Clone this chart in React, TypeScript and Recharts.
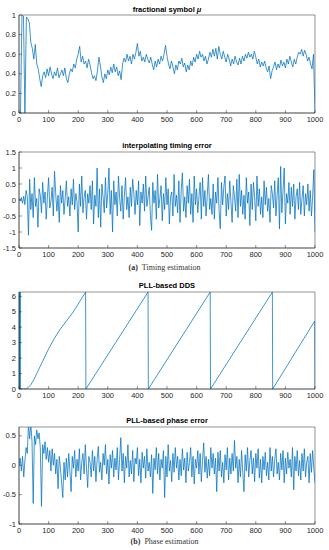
import React from "react";
import { LineChart, Line, XAxis, YAxis, ReferenceArea } from "recharts";

// fractional interval, one value every 5 symbols (0..1000)
const muValues = [
  0, 0, 1, 0.99, 0, 0.98, 0.96, 0.92, 0.72, 0.66,
  0.55, 0.7, 0.5, 0.45, 0.35, 0.27, 0.38, 0.42, 0.36, 0.45,
  0.38, 0.47, 0.4, 0.35, 0.42, 0.38, 0.46, 0.36, 0.4, 0.44,
  0.38, 0.46, 0.35, 0.31, 0.4, 0.45, 0.42, 0.5, 0.46, 0.55,
  0.6, 0.68, 0.52, 0.58, 0.5, 0.53, 0.46, 0.55, 0.49, 0.41,
  0.35, 0.38, 0.33, 0.43, 0.57, 0.48, 0.37, 0.31, 0.4, 0.35,
  0.44, 0.39, 0.47, 0.41, 0.5, 0.42, 0.47, 0.38, 0.43, 0.34,
  0.5, 0.56, 0.52, 0.6, 0.53, 0.58, 0.5, 0.6, 0.55, 0.62,
  0.71, 0.58, 0.63, 0.53, 0.57, 0.52, 0.6, 0.55, 0.51, 0.57,
  0.5, 0.44, 0.53, 0.47, 0.55, 0.5, 0.58, 0.53, 0.6, 0.69,
  0.58, 0.5, 0.45, 0.53, 0.47, 0.4, 0.49, 0.44, 0.53, 0.5,
  0.56, 0.47, 0.51, 0.42, 0.49, 0.44, 0.53, 0.48, 0.57, 0.52,
  0.6, 0.55, 0.63, 0.57, 0.6, 0.53, 0.58, 0.5, 0.55, 0.62,
  0.57, 0.65, 0.58, 0.66, 0.55, 0.68, 0.6, 0.55, 0.63, 0.57,
  0.52, 0.6, 0.55, 0.48, 0.55, 0.5, 0.58, 0.52, 0.49, 0.56,
  0.5, 0.58, 0.53, 0.6, 0.56, 0.62, 0.57, 0.6, 0.55, 0.63,
  0.57, 0.5, 0.55, 0.47, 0.52, 0.48, 0.53, 0.46, 0.42, 0.48,
  0.35, 0.43, 0.47, 0.52, 0.44, 0.5, 0.46, 0.54, 0.48, 0.52,
  0.46, 0.55, 0.5, 0.58, 0.52, 0.47, 0.55, 0.5, 0.57, 0.62,
  0.6, 0.65, 0.58, 0.64, 0.6, 0.53, 0.57, 0.5, 0.45, 0.6,
  0,
];

// timing error, one value every 4 symbols (0..1000)
const timingErr = [
  0.05, -0.03, 0.08, -0.1, 0.12, -0.15, 0.3, 0.1, -1.1, 0.65,
  -0.3, 0.2, -0.55, 0.7, -0.2, 0.05, -0.85, 0.35, 0.15, -0.4,
  0.55, -0.1, 0.25, -0.6, 0.1, 0.7, -0.25, -0.05, 0.4, -0.5,
  0.9, 0.2, -0.35, 0.15, -0.7, 0.45, -0.1, 0.3, -0.45, 0.05,
  0.6, -0.2, 0.1, -0.5, 0.35, -0.15, 0.65, -0.3, 0.2, -0.05,
  -1.0, 0.5, -0.2, 0.75, -0.4, 0.1, 0.3, -0.6, 0.2, -0.1,
  0.45, -0.3, 0.6, -0.75, 0.15, -0.2, 1.0, -0.55, 0.35, -0.85,
  0.5, 0.1, -0.4, 0.7, -0.25, 0.2, 1.0, -0.45, 0.3, -1.0,
  0.6, -0.15, 0.25, -0.5, 0.75, 0.05, -0.35, 0.45, -0.6, 0.15,
  0.7, -0.3, 0.1, -0.55, 0.4, -0.2, 0.65, 0.2, -0.45, 0.3,
  -0.15, 0.6, -0.8, 0.25, -0.1, 0.5, -0.35, 0.75, -0.2, 0.1,
  0.4, -0.5, -0.95, 0.55, -0.1, 0.3, -0.6, 0.8, -0.25, 0.05,
  0.45, -0.65, 0.2, -0.3, 0.7, -0.15, 0.35, -0.75, 0.1, 0.25,
  -0.5, 0.8, -0.2, 0.15, -0.4, 0.6, -0.7, 0.3, 0.85, -0.35,
  0.1, -0.55, 0.45, -0.1, 0.65, -0.45, 0.2, -0.7, 0.75, -0.15,
  0.35, -0.4, 0.1, 0.55, -0.6, 0.7, -0.2, 0.3, -0.5, 0.15,
  0.8, -0.3, 0.05, -0.45, 0.5, -0.6, 0.25, -0.1, 0.7, -0.35,
  -0.9, 0.55, -0.15, 0.4, 0.75, -0.5, 0.2, -0.3, 0.6, -0.05,
  -0.7, 0.45, 0.1, -0.35, 0.65, -0.55, 0.8, -0.2, 0.3, -0.45,
  0.15, -0.6, 0.7, -0.1, 0.25, -0.8, 0.5, -0.3, 0.55, 0.1,
  -0.65, 0.75, -0.2, 0.35, -0.45, 0.1, -0.55, 0.6, -0.15, 0.4,
  -0.35, 0.05, -0.7, 0.45, 0.2, -0.25, 0.6, -0.5, 0.15, 0.7,
  -0.9, 1.05, -0.4, 0.3, 1.0, -0.75, 0.2, -0.1, 0.55, -0.45,
  0.4, -0.2, 0.5, -0.6, 0.1, 0.35, -0.3, 0.55, -0.45, 0.05,
  0.45, -0.5, 0.2, -0.15, 0.5, -0.35, 0.3, -0.5, 0.1, 0.95,
  -1.0,
];

// PLL phase error, one value every 4 symbols (0..1000)
const phaseErr = [
  0, 0.12, -0.1, 0.15, -0.2, 0.08, 0.3, 0.2, 0.7, 0.45,
  0.7, 0.4, -0.65, 0.5, 0.35, 0.6, 0.45, 0.55, 0.3, -0.7,
  0.35, 0.2, 0.4, 0.1, 0.3, 0.05, 0.25, -0.1, 0.28, 0,
  0.2, -0.15, 0.1, -0.4, 0.15, -0.05, -0.3, -0.55, 0.05, -0.25,
  0.12, -0.2, 0.2, -0.1, -0.45, 0.15, -0.05, 0.25, -0.2, 0.1,
  -0.1, 0.28, -0.25, 0.05, 0.2, -0.15, 0.35, -0.05, -0.38, 0.15,
  0.05, -0.2, 0.25, -0.1, 0.15, -0.28, 0.1, 0.32, -0.12, 0.05,
  -0.25, 0.2, 0, 0.35, -0.15, 0.1, -0.32, 0.18, -0.05, 0.25,
  -0.2, 0.12, -0.08, 0.3, -0.25, 0.1, 0.47, -0.1, 0.2, -0.3,
  0.15, -0.05, 0.35, -0.2, 0.08, -0.15, 0.25, -0.28, 0.12, 0.02,
  0.3, -0.18, 0.1, -0.3, 0.22, -0.05, 0.15, -0.22, 0.28, -0.1,
  0.05, -0.2, 0.18, -0.48, 0.12, -0.08, 0.3, -0.15, 0.2, -0.25,
  0.1, -0.05, 0.25, -0.55, 0.15, -0.2, 0.35, -0.1, 0.08, -0.28,
  0.2, -0.12, 0.3, -0.05, 0.15, -0.25, 0.1, -0.18, 0.28, -0.08,
  0.12, -0.3, 0.22, -0.1, 0.05, 0.3, -0.2, 0.15, -0.32, 0.1,
  -0.05, 0.25, -0.15, 0.2, -0.28, 0.08, 0.38, -0.12, 0.15, -0.22,
  0.1, -0.18, 0.3, -0.05, 0.2, -0.15, 0.12, -0.45, 0.22, -0.1,
  0.25, -0.2, 0.05, -0.3, 0.18, -0.08, 0.3, -0.25, 0.12, -0.15,
  0.2, -0.1, 0.42, -0.05, 0.15, -0.3, 0.1, -0.2, 0.25, -0.12,
  -0.45, 0.18, -0.1, 0.3, -0.2, 0.08, 0.25, -0.15, 0.12, -0.28,
  0.2, -0.05, 0.28, -0.22, 0.1, -0.3, 0.15, -0.08, 0.22, -0.18,
  0.05, -0.25, 0.3, -0.1, 0.15, -0.2, 0.1, 0.28, -0.15, 0.05,
  -0.25, 0.2, -0.08, 0.25, -0.3, 0.12, -0.15, 0.22, -0.05, 0.1,
  -0.2, 0.3, -0.42, 0.15, -0.1, 0.25, -0.18, 0.08, -0.25, 0.2,
  -0.1, 0.28, -0.2, 0.05, 0.15, -0.3, 0.2, -0.12, 0.25, -0.05,
  -0.3,
];

// DDS phase, wraps at 2*pi
const ddsX = [0, 1, 2, 4, 5, 25, 30, 40, 50, 60, 80, 100, 120, 140, 160, 180, 200, 225, 226, 436, 437, 646, 647, 856, 857, 999, 1000];
const ddsY = [0, 6.28, 0, 6.28, 0, 0, 0.08, 0.28, 0.6, 1.0, 1.8, 2.6, 3.3, 3.9, 4.4, 4.9, 5.5, 6.28, 0, 6.28, 0, 6.28, 0, 6.28, 0, 4.4, 0];

const xTicks = [0, 100, 200, 300, 400, 500, 600, 700, 800, 900, 1000];

const BLUE = "#0072BD";
const AXIS = "#262626";
const SANS = "'Liberation Sans', Arial, sans-serif";
const SERIF = "'Liberation Serif', 'Times New Roman', serif";
const PAD = 6;

const toSeries = (vals: number[], step: number) => vals.map((y, i) => ({ x: i * step, y }));
const ddsData = ddsX.map((x, i) => ({ x, y: ddsY[i] }));

type PanelProps = {
  data: { x: number; y: number }[];
  top: number;
  height: number;
  yDomain: [number, number];
  yTicks: number[];
};

function Panel({ data, top, height, yDomain, yTicks }: PanelProps) {
  const tickStyle = { fontSize: 7.5, fill: AXIS, fontFamily: SANS };
  return (
    <div style={{ position: "absolute", left: 0, top: top - PAD }}>
      <LineChart width={329} height={height + 18 + PAD} data={data} margin={{ top: PAD, right: 14, bottom: 0, left: 0 }}>
        <XAxis
          dataKey="x"
          type="number"
          domain={[0, 1000]}
          ticks={xTicks}
          allowDataOverflow
          height={18}
          tickSize={-3}
          tickMargin={7}
          stroke={AXIS}
          strokeWidth={0.5}
          tick={tickStyle}
          interval={0}
        />
        <XAxis
          xAxisId="top"
          orientation="top"
          dataKey="x"
          type="number"
          domain={[0, 1000]}
          ticks={xTicks}
          allowDataOverflow
          height={0}
          tickSize={-3}
          tick={false}
          stroke={AXIS}
          strokeWidth={0.5}
        />
        <YAxis
          type="number"
          domain={yDomain}
          ticks={yTicks}
          allowDataOverflow
          width={19}
          tickSize={-3}
          tickMargin={6}
          stroke={AXIS}
          strokeWidth={0.5}
          tick={tickStyle}
          interval={0}
        />
        <YAxis
          yAxisId="right"
          orientation="right"
          type="number"
          domain={yDomain}
          ticks={yTicks}
          allowDataOverflow
          width={0}
          tickSize={-3}
          tick={false}
          stroke={AXIS}
          strokeWidth={0.5}
        />
        <ReferenceArea x1={0} x2={1000} y1={yDomain[0]} y2={yDomain[1]} fill="none" stroke={AXIS} strokeWidth={0.5} ifOverflow="visible" />
        <Line type="linear" dataKey="y" stroke={BLUE} strokeWidth={0.75} dot={false} isAnimationActive={false} />
      </LineChart>
    </div>
  );
}

function Title({ text, center, children }: { text?: string; center: number; children?: React.ReactNode }) {
  return (
    <div
      style={{
        position: "absolute",
        left: 19,
        width: 296,
        top: center - 5,
        lineHeight: "10px",
        textAlign: "center",
        fontFamily: SANS,
        fontWeight: 700,
        fontSize: 7.5,
        color: "#000",
      }}
    >
      {text}
      {children}
    </div>
  );
}

function Caption({ label, text, center }: { label: string; text: string; center: number }) {
  return (
    <div
      style={{
        position: "absolute",
        left: 0,
        width: 329,
        top: center - 5,
        lineHeight: "10px",
        textAlign: "center",
        fontFamily: SERIF,
        fontSize: 8,
        color: "#333",
      }}
    >
      <b>{label}</b>&nbsp;&nbsp;{text}
    </div>
  );
}

export default function App() {
  return (
    <div style={{ position: "absolute", left: 0, top: 0, width: 329, height: 550, background: "#fff", overflow: "hidden" }}>
      <Title center={10}>
        fractional symbol <i>μ</i>
      </Title>
      <Panel data={toSeries(muValues, 5)} top={15} height={98} yDomain={[0, 1]} yTicks={[0, 0.2, 0.4, 0.6, 0.8, 1]} />

      <Title text="interpolating timing error" center={146} />
      <Panel
        data={toSeries(timingErr, 4)}
        top={152}
        height={96}
        yDomain={[-1.5, 1.5]}
        yTicks={[-1.5, -1, -0.5, 0, 0.5, 1, 1.5]}
      />
      <Caption label="(a)" text="Timing estimation" center={268} />

      <Title text="PLL-based DDS" center={286} />
      <Panel data={ddsData} top={292} height={97} yDomain={[0, 6.2832]} yTicks={[0, 1, 2, 3, 4, 5, 6]} />

      <Title text="PLL-based phase error" center={421} />
      <Panel data={toSeries(phaseErr, 4)} top={427} height={97} yDomain={[-1, 0.65]} yTicks={[-1, -0.5, 0, 0.5]} />
      <Caption label="(b)" text="Phase estimation" center={542} />
    </div>
  );
}
